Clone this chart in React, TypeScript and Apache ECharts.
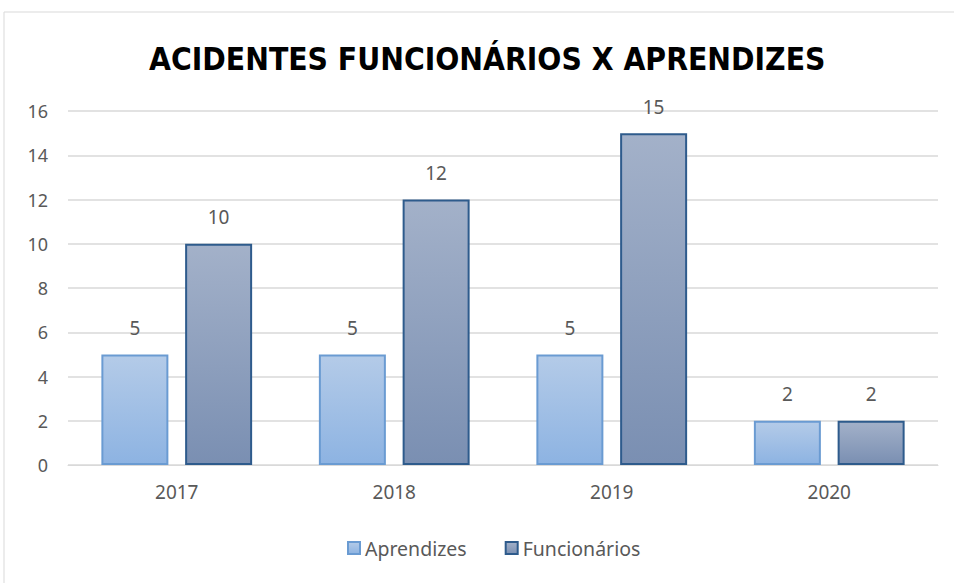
import React, { useEffect, useRef } from "react";
import * as echarts from "echarts";

const title = "ACIDENTES FUNCIONÁRIOS X APRENDIZES";
const categories = ["2017", "2018", "2019", "2020"];
const aprendizes = [5, 5, 5, 2];
const funcionarios = [10, 12, 15, 2];
const seriesNames = ["Aprendizes", "Funcionários"];

export default function App() {
  const ref = useRef<HTMLDivElement>(null);
  useEffect(() => {
    if (!ref.current) return;
    const chart = echarts.init(ref.current, null, { renderer: "svg" });
    const font = "'Noto Sans', sans-serif";
    const labelStyle = {
      show: true,
      position: "top" as const,
      distance: 17,
      color: "#595959",
      fontSize: 19,
      fontFamily: font,
    };
    chart.setOption({
      animation: false,
      backgroundColor: "#ffffff",
      graphic: [
        {
          type: "rect",
          shape: { x: 4, y: 12, width: 960, height: 600 },
          style: { fill: "none", stroke: "#d9d9d9", lineWidth: 1 },
          silent: true,
        },
      ],
      title: {
        text: title,
        left: 144,
        top: 38,
        textStyle: {
          fontFamily: "'DejaVu Sans Condensed', 'DejaVu Sans', sans-serif",
          fontWeight: "bold",
          fontSize: 31.5,
          color: "#000000",
        },
      },
      legend: {
        bottom: 20,
        left: 342,
        itemWidth: 12,
        itemHeight: 12,
        itemGap: 38,
        icon: "rect",
        textStyle: { color: "#595959", fontSize: 19.5, fontFamily: font },
        data: seriesNames,
      },
      grid: { left: 68, right: 16, top: 111, bottom: 118 },
      xAxis: {
        type: "category",
        data: categories,
        axisLine: { lineStyle: { color: "#d9d9d9" } },
        axisTick: { show: false },
        axisLabel: { color: "#595959", fontSize: 19, fontFamily: font, margin: 17 },
      },
      yAxis: {
        type: "value",
        min: 0,
        max: 16,
        interval: 2,
        axisLine: { show: false },
        axisTick: { show: false },
        splitLine: { lineStyle: { color: "#d9d9d9", width: 1.5 } },
        axisLabel: { color: "#595959", fontSize: 18, fontFamily: font, margin: 20 },
      },
      series: [
        {
          name: seriesNames[0],
          type: "bar",
          data: aprendizes,
          barWidth: 67,
          barGap: "25%",
          itemStyle: {
            color: new echarts.graphic.LinearGradient(0, 0, 0, 1, [
              { offset: 0, color: "#b4cbe8" },
              { offset: 1, color: "#8db3e2" },
            ]),
            borderColor: "#6a9bd2",
            borderWidth: 2,
          },
          label: labelStyle,
        },
        {
          name: seriesNames[1],
          type: "bar",
          data: funcionarios,
          barWidth: 67,
          itemStyle: {
            color: new echarts.graphic.LinearGradient(0, 0, 0, 1, [
              { offset: 0, color: "#a3b1c9" },
              { offset: 1, color: "#7a8fb2" },
            ]),
            borderColor: "#2e5b8c",
            borderWidth: 2,
          },
          label: labelStyle,
        },
      ],
    });
    return () => chart.dispose();
  }, []);
  return (
    <div
      ref={ref}
      style={{ position: "fixed", left: 0, top: 0, width: 954, height: 583 }}
    />
  );
}
